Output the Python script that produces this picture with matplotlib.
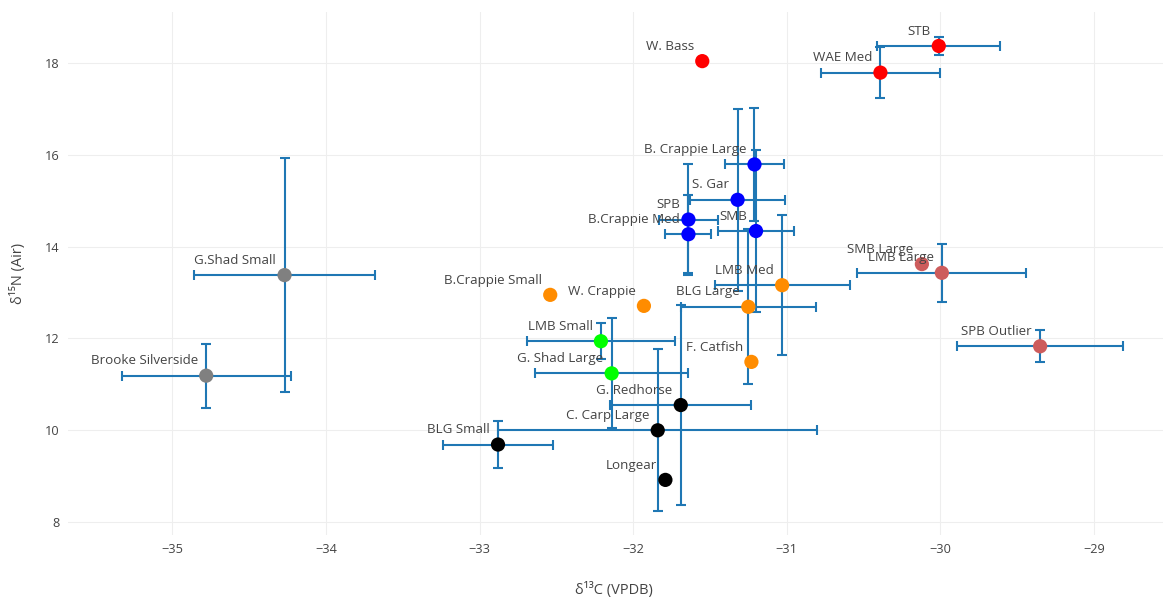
import matplotlib
matplotlib.use("Agg")
import matplotlib.pyplot as plt

# species / size class labels
names = ["STB", "WAE Med", "W. Bass",
         "B. Crappie Large", "S. Gar", "SPB", "B.Crappie Med", "SMB",
         "LMB Med", "BLG Large", "F. Catfish", "W. Crappie", "B.Crappie Small",
         "LMB Small", "G. Shad Large",
         "G. Redhorse", "C. Carp Large", "BLG Small", "Longear",
         "G.Shad Small", "Brooke Silverside",
         "SMB Large", "LMB Large", "SPB Outlier"]

# mean values
d13c = [-30.01, -30.39, -31.55,
        -31.21, -31.32, -31.64, -31.64, -31.20,
        -31.03, -31.25, -31.23, -31.93, -32.54,
        -32.21, -32.14,
        -31.69, -31.84, -32.88, -31.79,
        -34.27, -34.78,
        -30.12, -29.99, -29.35]
d15n = [18.37, 17.79, 18.04,
        15.79, 15.02, 14.59, 14.27, 14.34,
        13.16, 12.69, 11.49, 12.71, 12.95,
        11.94, 11.24,
        10.55, 10.00, 9.69, 8.92,
        13.38, 11.19,
        13.62, 13.43, 11.83]

# standard deviations (0 = single sample)
c_err = [0.40, 0.39, 0.0,
         0.19, 0.31, 0.19, 0.15, 0.25,
         0.44, 0.44, 0.0, 0.0, 0.0,
         0.48, 0.50,
         0.46, 1.04, 0.36, 0.0,
         0.59, 0.55,
         0.0, 0.55, 0.54]
n_err = [0.20, 0.56, 0.0,
         1.24, 1.98, 1.20, 0.85, 1.77,
         1.53, 1.69, 0.0, 0.0, 0.0,
         0.39, 1.20,
         2.18, 1.76, 0.51, 0.0,
         2.55, 0.70,
         0.0, 0.63, 0.35]

# trophic group of each point
groups = ["top", "top", "top",
          "upper", "upper", "upper", "upper", "upper",
          "mid", "mid", "mid", "mid", "mid",
          "lower", "lower",
          "benthic", "benthic", "benthic", "benthic",
          "forage", "forage",
          "other", "other", "other"]

group_colors = {"top": "#ff0000", "upper": "#0000ff", "mid": "#ff8c00",
                "lower": "#00ff00", "benthic": "#000000", "forage": "#808080",
                "other": "#cd5c5c"}

plt.rcParams["font.family"] = ["Open Sans", "DejaVu Sans"]

fig = plt.figure(figsize=(11.63, 6.0), dpi=100)
ax = fig.add_axes([68 / 1163, 65 / 600, 1095 / 1163, 523 / 600])

# error bars under the markers
ax.errorbar(d13c, d15n, xerr=c_err, yerr=n_err, fmt="none",
            ecolor="#1f77b4", elinewidth=1.5, capsize=3.5, capthick=1.5,
            zorder=2)

colors = [group_colors[g] for g in groups]
ax.scatter(d13c, d15n, s=105, c=colors, zorder=3, linewidths=0)

for name, x, y in zip(names, d13c, d15n):
    ax.annotate(name, (x, y), xytext=(-6, 6), textcoords="offset points",
                ha="right", va="bottom", fontsize=9.6, color="#444444",
                zorder=4)

ax.set_xlim(-35.68, -28.55)
ax.set_ylim(7.72, 19.11)
ax.set_xticks([-35, -34, -33, -32, -31, -30, -29])
ax.set_yticks([8, 10, 12, 14, 16, 18])

ax.grid(True, color="#eeeeee", linewidth=0.8)
ax.set_axisbelow(True)
for s in ax.spines.values():
    s.set_visible(False)
ax.tick_params(length=0, labelsize=9.2, labelcolor="#444444", pad=6)

ax.set_xlabel("δ¹³C (VPDB)", fontsize=10.5, color="#444444")
ax.set_ylabel("δ¹⁵N (Air)", fontsize=10.5, color="#444444")
ax.xaxis.set_label_coords((614 - 68) / 1095, -(590 - 535) / 523)
ax.yaxis.set_label_coords((18 - 68) / 1095, 0.5)
ax.xaxis.label.set_va("center")
ax.yaxis.label.set_va("center")

fig.savefig("out.png", dpi=100, facecolor="white")
